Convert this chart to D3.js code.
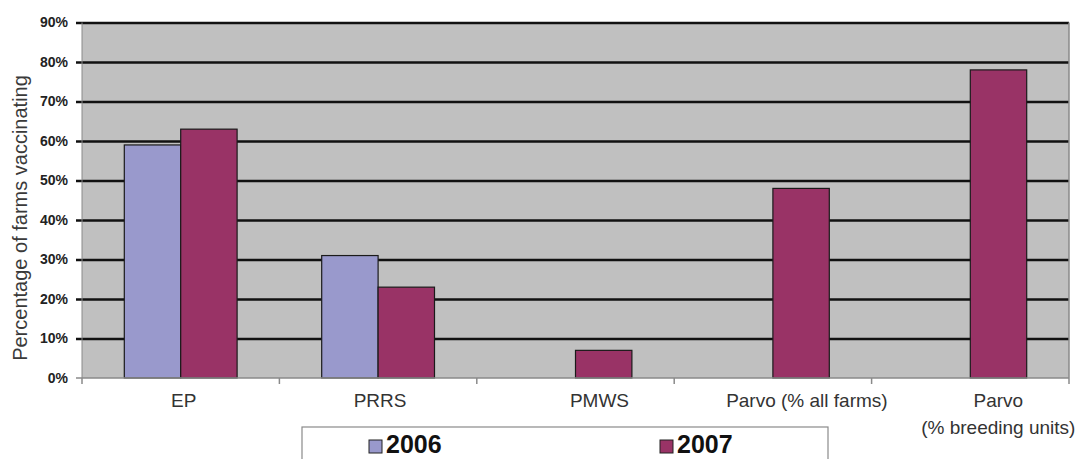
<!DOCTYPE html>
<html>
<head>
<meta charset="utf-8">
<script src="https://cdn.jsdelivr.net/npm/d3@7"></script>
<style>
  html, body { margin: 0; padding: 0; background: #ffffff; }
  svg { display: block; font-family: Arial, "Liberation Sans", sans-serif; }
</style>
</head>
<body>
<svg id="chart" width="1081" height="459"></svg>
<script>
// Vaccination coverage by disease, 2006 vs 2007
const categories = ["EP", "PRRS", "PMWS", "Parvo (% all farms)", "Parvo|(% breeding units)"];
const seriesNames = ["2006", "2007"];
const values2006 = [59, 31, null, null, null];
const values2007 = [63, 23, 7, 48, 78];
const yTicks = [0, 10, 20, 30, 40, 50, 60, 70, 80, 90];

const colors = { "2006": "#9999cc", "2007": "#993366" };
const seriesValues = { "2006": values2006, "2007": values2007 };

const W = 1081, H = 459;
const plot = { left: 82, right: 1069, top: 22.5, bottom: 378 };

const svg = d3.select("#chart");

const x = d3.scaleBand()
  .domain(categories)
  .range([plot.left, plot.right])
  .paddingInner(0)
  .paddingOuter(0);

const xSub = d3.scaleBand()
  .domain(seriesNames)
  .range([0, x.bandwidth()])
  .paddingInner(0)
  .paddingOuter(0.75);

const y = d3.scaleLinear()
  .domain([0, 90])
  .range([plot.bottom, plot.top]);

// plot background
svg.append("rect")
  .attr("x", plot.left)
  .attr("y", plot.top)
  .attr("width", plot.right - plot.left)
  .attr("height", plot.bottom - plot.top)
  .attr("fill", "#c0c0c0");

// horizontal gridlines, extended left as tick marks
const gridG = svg.append("g")
  .attr("transform", `translate(${plot.left},0)`)
  .call(d3.axisLeft(y)
    .tickValues(yTicks.filter(t => t > 0))
    .tickSize(-(plot.right - plot.left))
    .tickFormat(""));
gridG.select(".domain").remove();
gridG.selectAll(".tick line")
  .attr("x1", -6)
  .attr("stroke", "#111")
  .attr("stroke-width", 2.4);

// y tick labels
const yAxisG = svg.append("g")
  .attr("transform", `translate(${plot.left},0)`)
  .call(d3.axisLeft(y)
    .tickValues(yTicks)
    .tickSize(0)
    .tickPadding(14)
    .tickFormat(d => d + "%"));
yAxisG.select(".domain").remove();
yAxisG.selectAll(".tick text")
  .attr("font-size", 14)
  .attr("font-weight", "bold")
  .attr("fill", "#222")
  .attr("font-family", "Arial, 'Liberation Sans', sans-serif");

// left edge of plot and small tick at 0
svg.append("line")
  .attr("x1", plot.left).attr("x2", plot.left)
  .attr("y1", plot.top).attr("y2", plot.bottom)
  .attr("stroke", "#8a8a8a").attr("stroke-width", 1);
svg.append("line")
  .attr("x1", plot.left - 6).attr("x2", plot.left)
  .attr("y1", y(0)).attr("y2", y(0))
  .attr("stroke", "#8a8a8a").attr("stroke-width", 1.5);

// right edge of plot
svg.append("line")
  .attr("x1", plot.right).attr("x2", plot.right)
  .attr("y1", plot.top).attr("y2", plot.bottom)
  .attr("stroke", "#8a8a8a").attr("stroke-width", 1.5);

// bars
const groups = svg.append("g")
  .selectAll("g")
  .data(categories)
  .join("g")
  .attr("transform", d => `translate(${x(d)},0)`);

groups.selectAll("rect")
  .data((d, i) => seriesNames
    .map(s => ({ series: s, value: seriesValues[s][i] }))
    .filter(e => e.value !== null))
  .join("rect")
  .attr("x", d => xSub(d.series))
  .attr("y", d => y(d.value))
  .attr("width", xSub.bandwidth())
  .attr("height", d => y(0) - y(d.value))
  .attr("fill", d => colors[d.series])
  .attr("stroke", "#1a1a1a")
  .attr("stroke-width", 1.2);

// bottom axis with category boundary ticks
const boundaries = categories.map(c => x(c)).concat([plot.right]);
svg.append("line")
  .attr("x1", plot.left).attr("x2", plot.right)
  .attr("y1", y(0)).attr("y2", y(0))
  .attr("stroke", "#8a8a8a").attr("stroke-width", 1.5);
svg.append("g")
  .selectAll("line")
  .data(boundaries)
  .join("line")
  .attr("x1", d => d).attr("x2", d => d)
  .attr("y1", y(0)).attr("y2", y(0) + 6)
  .attr("stroke", "#8a8a8a").attr("stroke-width", 1.5);

// category labels, slightly nudged right as in the original layout
const labelNudge = [3, 2, 24, 34, 28];
const catLabels = svg.append("g")
  .selectAll("text")
  .data(categories)
  .join("text")
  .attr("font-size", 19)
  .attr("fill", "#333")
  .attr("text-anchor", "middle");

catLabels.each(function(d, i) {
  const t = d3.select(this);
  const cx = x(d) + x.bandwidth() / 2 + labelNudge[i];
  d.split("|").forEach((line, li) => {
    t.append("tspan")
      .attr("x", cx)
      .attr("y", 407 + li * 27)
      .text(line);
  });
});

// y axis title
svg.append("text")
  .attr("transform", `translate(27,218) rotate(-90)`)
  .attr("text-anchor", "middle")
  .attr("font-size", 20)
  .attr("fill", "#3a3a3a")
  .text("Percentage of farms vaccinating");

// legend
const legend = svg.append("g").attr("transform", "translate(302,427)");
legend.append("rect")
  .attr("x", 0).attr("y", 0)
  .attr("width", 526).attr("height", 60)
  .attr("fill", "#ffffff")
  .attr("stroke", "#8a8a8a")
  .attr("stroke-width", 1.2);

const legendX = d3.scalePoint()
  .domain(seriesNames)
  .range([67, 358]);

const items = legend.selectAll("g.item")
  .data(seriesNames)
  .join("g")
  .attr("class", "item")
  .attr("transform", d => `translate(${legendX(d)},0)`);

items.append("rect")
  .attr("x", 0).attr("y", 13)
  .attr("width", 13).attr("height", 13)
  .attr("fill", d => colors[d])
  .attr("stroke", "#222")
  .attr("stroke-width", 1);

items.append("text")
  .attr("x", 17)
  .attr("y", 26)
  .attr("font-size", 25)
  .attr("font-weight", "bold")
  .attr("fill", "#111")
  .text(d => d);
</script>
</body>
</html>
